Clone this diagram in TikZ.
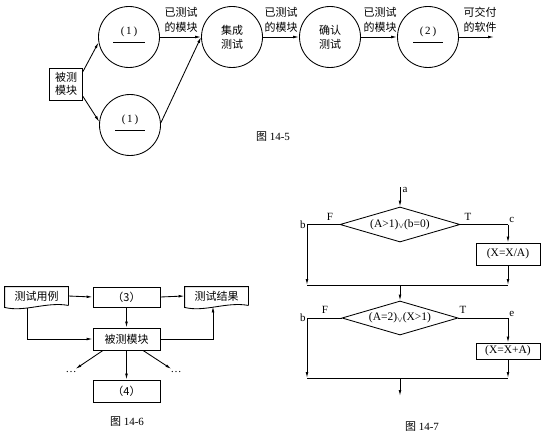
\documentclass[tikz,border=0pt]{standalone}
\usepackage{fontspec}
\setmainfont{Liberation Serif}
\newfontfamily\cjk{Noto Sans CJK SC}
\usetikzlibrary{arrows.meta,shapes.geometric}

\tikzset{
  arr/.style={-{Latex[length=6pt,width=2.8pt]}},
  proc/.style={circle, draw, minimum size=61pt, inner sep=0pt, align=center,
    font=\cjk\fontsize{11}{14}\selectfont},
  lbl/.style={align=center, inner sep=0pt, font=\cjk\fontsize{11}{15}\selectfont},
  blk/.style={draw, inner sep=0pt, font=\cjk\fontsize{11}{13}\selectfont},
  doc/.style={inner sep=0pt, minimum width=63pt, minimum height=18pt,
    font=\cjk\fontsize{11}{13}\selectfont},
  cond/.style={diamond, draw, aspect=3.4, inner sep=0pt, font=\fontsize{11.5}{13}\selectfont},
  pin/.style={inner sep=1pt, font=\fontsize{11}{12}\selectfont},
  ttl/.style={inner sep=0pt, font=\fontsize{11}{13}\selectfont},
}

% wavy-bottom document outline round a node
\newcommand\docshape[1]{%
  \draw (#1.south east) -- (#1.north east) -- (#1.north west) -- ([yshift=-2pt]#1.south west)
    .. controls ([xshift=20pt,yshift=-7pt]#1.south west) and ([xshift=-22pt,yshift=4pt]#1.south east) .. (#1.south east);}

\newcommand\vel{\raisebox{-1.5pt}{$\scriptstyle\vee$}}

\begin{document}
\begin{tikzpicture}[x=1pt, y=-1pt, line width=0.85pt]
  \useasboundingbox (0,0) rectangle (554,441);

  % Figure 14-5
  \node[blk, minimum width=33pt, minimum height=32pt, align=center,
    font=\cjk\fontsize{11}{13}\selectfont] (mod) at (66,84) {被测\\模块};
  \node[proc] (t1) at (129,37) {};
  \node[proc] (t2) at (130,125) {};
  \node[proc] (it) at (232,37) {集成\\测试};
  \node[proc] (vt) at (330,37) {确认\\测试};
  \node[proc] (t3) at (428,37) {};
  \coordinate (out) at (494,37);

  \node[ttl] (n1) at (129,32) {(\,1\,)};
  \node[ttl] (n2) at (130,120) {(\,1\,)};
  \node[ttl] (n3) at (428,32) {(\,2\,)};
  \draw ([shift={(-16,5)}]t1.center) -- ([shift={(16,5)}]t1.center);
  \draw ([shift={(-15,5)}]t2.center) -- ([shift={(15,5)}]t2.center);
  \draw ([shift={(-15,5)}]t3.center) -- ([shift={(15,5)}]t3.center);

  \draw[arr] ([yshift=-4pt]mod.north east) -- (t1.190);
  \draw[arr] ([yshift=4pt]mod.south east) -- (t2.174);
  \draw[arr] (t1.east) -- (it.west);
  \draw[arr] (t2.4) -- (it.west);
  \draw[arr] (it.east) -- (vt.west);
  \draw[arr] (vt.east) -- (t3.west);
  \draw[arr] (t3.east) -- (out);

  \node[lbl] (l1) at (181,20) {已测试\\的模块};
  \node[lbl] (l2) at (281,20) {已测试\\的模块};
  \node[lbl] (l3) at (380,20) {已测试\\的模块};
  \node[lbl] (l4) at (480,20) {可交付\\的软件};
  \node[ttl] (c5) at (273,137) {{\cjk 图} 14-5};

  % Figure 14-6
  \node[doc] (case) at (36.5,296) {测试用例};
  \node[doc] (res) at (216.5,296) {测试结果};
  \docshape{case}
  \docshape{res}
  \node[blk, minimum width=67pt, minimum height=20pt] (p3) at (126.5,297) {（3）};
  \node[blk, minimum width=67pt, minimum height=22pt] (dut) at (126.5,339) {被测模块};
  \node[blk, minimum width=67pt, minimum height=22pt] (p4) at (126.5,391) {（4）};
  \node[pin, inner sep=2pt] (dl) at (71,372) {\ldots};
  \node[pin, inner sep=2pt] (dr) at (176,372) {\ldots};

  \draw[arr] (case.east) -- (p3.west);
  \draw[arr] (p3.east) -- (res.west);
  \draw[arr] (p3.south) -- (dut.north);
  \draw[arr] ([xshift=-9.5pt,yshift=-3pt]case.south) |- (dut.west);
  \draw[arr] (dut.east) -| ([xshift=-3.5pt,yshift=-1pt]res.south);
  \draw[arr] (dut.south) -- (p4.north);
  \draw[arr] ([xshift=-23.5pt]dut.south) -- (dl);
  \draw[arr] ([xshift=16.5pt]dut.south) -- (dr);
  \node[ttl] (c6) at (127,422) {{\cjk 图} 14-6};

  % Figure 14-7
  \coordinate (ain) at (400,187);
  \node[cond, minimum width=120pt, minimum height=35pt] (d1) at (400,224.5) {(A>1)\vel(b=0)};
  \node[blk, minimum width=64pt, minimum height=22pt, font=\fontsize{11.5}{13}\selectfont]
    (s1) at (508,254) {(X=X/A)};
  \coordinate (b1) at (307,224.5);
  \coordinate (c1) at (508,224.5);
  \coordinate (m1l) at (307,285);
  \coordinate (m1r) at (508,285);
  \coordinate (m1) at (400,285);

  \node[cond, minimum width=116pt, minimum height=34pt] (d2) at (400,318) {(A=2)\vel(X>1)};
  \node[blk, minimum width=64pt, minimum height=16pt, font=\fontsize{11.5}{13}\selectfont]
    (s2) at (508,351) {(X=X+A)};
  \coordinate (b2) at (307,318);
  \coordinate (c2) at (508,318);
  \coordinate (m2l) at (307,378);
  \coordinate (m2r) at (508,378);
  \coordinate (m2) at (400,378);
  \coordinate (end) at (400,396);

  \draw[arr] (ain) -- (d1.north);
  \draw (d1.west) -- (b1);
  \draw[arr] (b1) -- (m1l);
  \draw (d1.east) -- (c1);
  \draw[arr] (c1) -- (s1.north);
  \draw[arr] (s1.south) -- (m1r);
  \draw (m1l) -- (m1r);
  \draw[arr] (m1) -- (d2.north);
  \draw (d2.west) -- (b2);
  \draw[arr] (b2) -- (m2l);
  \draw (d2.east) -- (c2);
  \draw[arr] (c2) -- (s2.north);
  \draw[arr] (s2.south) -- (m2r);
  \draw (m2l) -- (m2r);
  \draw[arr] (m2) -- (end);

  \node[pin] (la) at (405,190) {a};
  \node[pin, left] (lb1) at (b1) {b};
  \node[pin] (lf1) at (330,217) {F};
  \node[pin] (lt1) at (468,217) {T};
  \node[pin, above right] (lc) at (c1) {c};
  \node[pin, left] (lb2) at (b2) {b};
  \node[pin] (lf2) at (325,310) {F};
  \node[pin] (lt2) at (463,310) {T};
  \node[pin, above right] (le) at (c2) {e};
  \node[ttl] (c7) at (422,427) {{\cjk 图} 14-7};
\end{tikzpicture}
\end{document}
